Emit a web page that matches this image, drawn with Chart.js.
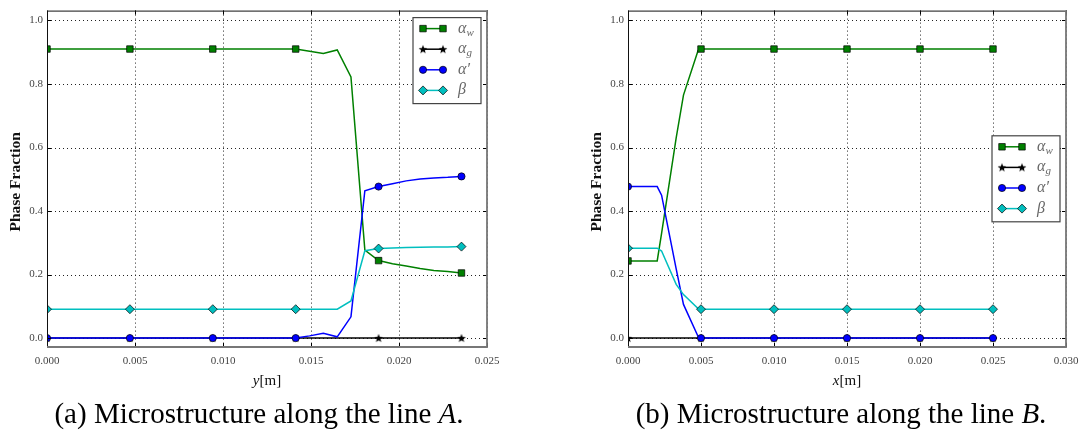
<!doctype html>
<html lang="en">
<head>
<meta charset="UTF-8" />
<title>Phase fractions along lines A and B</title>
<style>
  body { margin: 0; background: #fff; }
  .wrap { position: relative; width: 1088px; height: 431px; }
  .panel { position: absolute; top: 0; width: 544px; height: 431px; }
</style>
</head>
<body>
<div class="wrap">
  <div class="panel" style="left:0"><canvas id="chartA" width="544" height="431"></canvas></div>
  <div class="panel" style="left:544px"><canvas id="chartB" width="544" height="431"></canvas></div>
</div>

<script src="https://cdn.jsdelivr.net/npm/chart.js"></script>
<script>
// ---- line A : fractions against y [m]
var posA      = [0, 0.00471, 0.00942, 0.01413, 0.01492, 0.01570, 0.01649, 0.01727, 0.01806, 0.01884, 0.01963, 0.02041, 0.02120, 0.02198, 0.02277, 0.02355];
var alphaWA   = [0.910, 0.910, 0.910, 0.910, 0.903, 0.896, 0.907, 0.822, 0.277, 0.244, 0.234, 0.227, 0.219, 0.213, 0.210, 0.205];
var alphaGA   = [0, 0, 0, 0, 0, 0, 0, 0, 0, 0, 0, 0, 0, 0, 0, 0];
var alphaPA   = [0, 0, 0, 0, 0.007, 0.015, 0.004, 0.067, 0.464, 0.477, 0.486, 0.495, 0.501, 0.504, 0.506, 0.509];
var betaA     = [0.091, 0.091, 0.091, 0.091, 0.091, 0.091, 0.091, 0.117, 0.275, 0.282, 0.284, 0.285, 0.286, 0.287, 0.287, 0.288];
var marksA    = [0, 1, 2, 3, 9, 15];   // indices that carry a marker
var xTicksA   = [0, 0.005, 0.010, 0.015, 0.020, 0.025];

// ---- line B : fractions against x [m]
var posB      = [0, 0.0020, 0.0023, 0.0033, 0.0038, 0.0048, 0.0050, 0.0100, 0.0150, 0.0200, 0.0250];
var alphaWB   = [0.243, 0.243, 0.330, 0.630, 0.765, 0.905, 0.910, 0.910, 0.910, 0.910, 0.910];
var alphaGB   = [0, 0, 0, 0, 0, 0, 0, 0, 0, 0, 0];
var alphaPB   = [0.477, 0.477, 0.450, 0.218, 0.106, 0.005, 0, 0, 0, 0, 0];
var betaB     = [0.283, 0.283, 0.274, 0.169, 0.137, 0.093, 0.091, 0.091, 0.091, 0.091, 0.091];
var marksB    = [0, 6, 7, 8, 9, 10];
var xTicksB   = [0, 0.005, 0.010, 0.015, 0.020, 0.025, 0.030];

var yTicks    = [0, 0.2, 0.4, 0.6, 0.8, 1.0];
var phaseNames = [['α', 'w'], ['α', 'g'], ['α′', ''], ['β', '']];

var serif = '"Liberation Serif", "Times New Roman", serif';

// filled five point star used as marker for alpha_g
function starImage() {
  var c = document.createElement('canvas');
  c.width = 10; c.height = 10;
  var g = c.getContext('2d');
  g.beginPath();
  for (var k = 0; k < 10; k++) {
    var r = k % 2 ? 1.9 : 4.6;
    var a = -Math.PI / 2 + k * Math.PI / 5;
    g.lineTo(5 + r * Math.cos(a), 5.3 + r * Math.sin(a));
  }
  g.closePath();
  g.fillStyle = '#000';
  g.fill();
  return c;
}
var star = starImage();

var looks = [
  { line: '#008000', face: '#008000', shape: 'rect',    size: 4.6 },
  { line: '#000000', face: '#000000', shape: star,      size: 4 },
  { line: '#0000ff', face: '#0000ff', shape: 'circle',  size: 3.6 },
  { line: '#00bfbf', face: '#00bfbf', shape: 'rectRot', size: 4.5 }
];

function buildDatasets(xs, cols, marks) {
  return cols.map(function (ys, k) {
    var lk = looks[k];
    return {
      label: phaseNames[k].join(''),
      data: xs.map(function (x, i) { return { x: x, y: ys[i] }; }),
      borderColor: lk.line,
      borderWidth: 1.5,
      backgroundColor: lk.face,
      pointBackgroundColor: lk.face,
      pointBorderColor: '#000',
      pointBorderWidth: 0.7,
      pointStyle: lk.shape,
      pointRadius: function (ctx) { return marks.indexOf(ctx.dataIndex) >= 0 ? lk.size : 0; },
      pointHoverRadius: 0,
      tension: 0,
      fill: false,
      clip: 0,
      order: 4 - k
    };
  });
}

// dotted grid, frame with inward ticks, legend, axis titles and caption
var decor = {
  id: 'decor',
  beforeDatasetsDraw: function (chart) {
    var ctx = chart.ctx, a = chart.chartArea;
    var xs = chart.scales.x, ys = chart.scales.y;
    ctx.save();
    ctx.strokeStyle = '#222';
    ctx.lineWidth = 1;
    ctx.setLineDash([1, 3]);
    ctx.beginPath();
    xs.ticks.forEach(function (t) {
      var px = Math.round(xs.getPixelForValue(t.value)) + 0.5;
      ctx.moveTo(px, a.top); ctx.lineTo(px, a.bottom);
    });
    ys.ticks.forEach(function (t) {
      var py = Math.round(ys.getPixelForValue(t.value)) + 0.5;
      ctx.moveTo(a.left, py); ctx.lineTo(a.right, py);
    });
    ctx.stroke();
    ctx.restore();
  },
  afterDatasetsDraw: function (chart, args, opts) {
    var ctx = chart.ctx, a = chart.chartArea;
    var xs = chart.scales.x, ys = chart.scales.y;
    ctx.save();
    // inward ticks
    ctx.strokeStyle = '#000';
    ctx.lineWidth = 1;
    ctx.beginPath();
    xs.ticks.forEach(function (t) {
      var px = Math.round(xs.getPixelForValue(t.value)) + 0.5;
      ctx.moveTo(px, a.top); ctx.lineTo(px, a.top + 4);
      ctx.moveTo(px, a.bottom); ctx.lineTo(px, a.bottom - 4);
    });
    ys.ticks.forEach(function (t) {
      var py = Math.round(ys.getPixelForValue(t.value)) + 0.5;
      ctx.moveTo(a.left, py); ctx.lineTo(a.left + 4, py);
      ctx.moveTo(a.right, py); ctx.lineTo(a.right - 4, py);
    });
    ctx.stroke();
    // frame
    ctx.strokeStyle = '#111';
    ctx.beginPath();
    ctx.moveTo(a.left + 0.5, a.bottom); ctx.lineTo(a.left + 0.5, a.top + 0.5); ctx.lineTo(a.right, a.top + 0.5);
    ctx.stroke();
    ctx.strokeStyle = '#777';
    ctx.lineWidth = 1.8;
    ctx.beginPath();
    ctx.moveTo(a.right, a.top); ctx.lineTo(a.right, a.bottom); ctx.lineTo(a.left, a.bottom);
    ctx.stroke();

    // legend
    var bw = 68, bh = 86;
    var bx = a.right - 6 - bw;
    var by = opts.legendPlace === 'center' ? (a.top + a.bottom) / 2 - bh / 2 : a.top + 7;
    ctx.fillStyle = '#fff';
    ctx.fillRect(bx, by, bw, bh);
    ctx.strokeStyle = '#444';
    ctx.lineWidth = 1.2;
    ctx.strokeRect(bx, by, bw, bh);
    chart.data.datasets.forEach(function (ds, k) {
      var ry = by + 11 + k * 20.6;
      var lk = looks[k];
      ctx.strokeStyle = lk.line;
      ctx.lineWidth = 1.5;
      ctx.beginPath();
      ctx.moveTo(bx + 10, ry); ctx.lineTo(bx + 30, ry);
      ctx.stroke();
      [bx + 10, bx + 30].forEach(function (mx) {
        ctx.fillStyle = lk.face;
        ctx.strokeStyle = '#000';
        ctx.lineWidth = 0.7;
        Chart.helpers.drawPoint(ctx, { pointStyle: lk.shape, radius: lk.size, rotation: 0, borderWidth: 0.7 }, mx, ry);
      });
      var nm = phaseNames[k];
      ctx.fillStyle = '#666';
      ctx.textAlign = 'left';
      ctx.textBaseline = 'alphabetic';
      ctx.font = 'italic 16px ' + serif;
      ctx.fillText(nm[0], bx + 45, ry + 4);
      var w = ctx.measureText(nm[0]).width;
      if (nm[1]) {
        ctx.font = 'italic 11px ' + serif;
        ctx.fillText(nm[1], bx + 45 + w, ry + 7);
      }
    });
    ctx.restore();
  },
  afterDraw: function (chart, args, opts) {
    var ctx = chart.ctx, a = chart.chartArea;
    ctx.save();
    ctx.fillStyle = '#111';
    // y title
    ctx.translate(a.left - 31, (a.top + a.bottom) / 2 + 3);
    ctx.rotate(-Math.PI / 2);
    ctx.font = 'bold 15.5px ' + serif;
    ctx.textAlign = 'center';
    ctx.textBaseline = 'middle';
    ctx.fillText('Phase Fraction', 0, 0);
    ctx.setTransform(1, 0, 0, 1, 0, 0);
    // x title: italic symbol + unit
    drawMixed(ctx, opts.xTitle, (a.left + a.right) / 2, 385, 15);
    // caption
    ctx.fillStyle = '#000';
    drawMixed(ctx, opts.caption, opts.captionX, 423, 29);
    ctx.restore();
  }
};

// parts alternate upright / italic, centred on cx
function drawMixed(ctx, parts, cx, baseY, size) {
  var fonts = parts.map(function (p, i) { return (i % 2 ? 'italic ' : '') + size + 'px ' + serif; });
  var widths = parts.map(function (p, i) { ctx.font = fonts[i]; return ctx.measureText(p).width; });
  var total = widths.reduce(function (s, w) { return s + w; }, 0);
  var x = cx - total / 2;
  ctx.textAlign = 'left';
  ctx.textBaseline = 'alphabetic';
  parts.forEach(function (p, i) {
    ctx.font = fonts[i];
    ctx.fillText(p, x, baseY);
    x += widths[i];
  });
}

function makeChart(id, xs, cols, marks, xTicks, xMax, pad, extra) {
  return new Chart(document.getElementById(id), {
    type: 'line',
    data: { datasets: buildDatasets(xs, cols, marks) },
    plugins: [decor],
    options: {
      responsive: false,
      animation: false,
      devicePixelRatio: 1,
      layout: { padding: pad },
      plugins: { legend: { display: false }, tooltip: { enabled: false }, decor: extra },
      scales: {
        x: {
          type: 'linear', min: 0, max: xMax,
          afterBuildTicks: function (s) { s.ticks = xTicks.map(function (v) { return { value: v }; }); },
          afterFit: function (s) { s.height = 40; },
          grid: { display: false, drawTicks: false },
          border: { display: false },
          ticks: {
            autoSkip: false, maxRotation: 0, padding: 8, color: '#444',
            font: { family: serif, size: 11 },
            callback: function (v) { return v.toFixed(3); }
          }
        },
        y: {
          type: 'linear', min: -0.028, max: 1.031,
          afterBuildTicks: function (s) { s.ticks = yTicks.map(function (v) { return { value: v }; }); },
          afterFit: function (s) { s.width = 47; },
          grid: { display: false, drawTicks: false },
          border: { display: false },
          ticks: {
            padding: 4, color: '#444',
            font: { family: serif, size: 11 },
            callback: function (v) { return v.toFixed(1); }
          }
        }
      }
    }
  });
}

makeChart('chartA', posA, [alphaWA, alphaGA, alphaPA, betaA], marksA, xTicksA, 0.025,
  { left: 0, right: 57, top: 6, bottom: 44 },
  { legendPlace: 'top', xTitle: ['', 'y', '[m]'], caption: ['(a) Microstructure along the line ', 'A', '.'], captionX: 259 });

makeChart('chartB', posB, [alphaWB, alphaGB, alphaPB, betaB], marksB, xTicksB, 0.030,
  { left: 37, right: 22, top: 6, bottom: 44 },
  { legendPlace: 'center', xTitle: ['', 'x', '[m]'], caption: ['(b) Microstructure along the line ', 'B', '.'], captionX: 297 });
</script>
</body>
</html>
